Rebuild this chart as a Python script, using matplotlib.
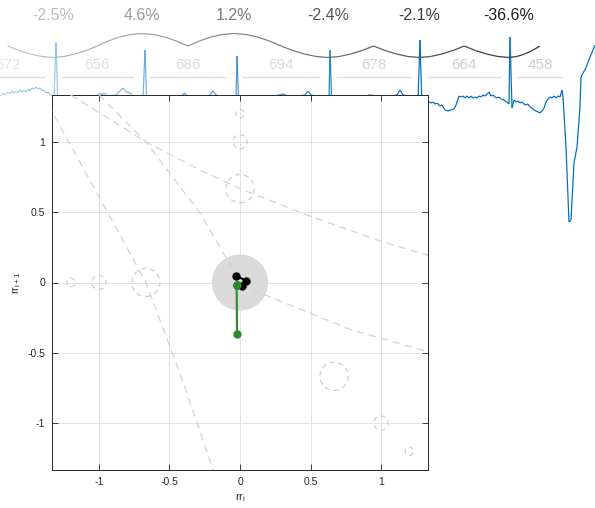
import numpy as np
import matplotlib.pyplot as plt
from matplotlib.collections import LineCollection
from matplotlib.patches import Circle

plt.rcParams['font.family'] = ['Liberation Sans', 'DejaVu Sans']

fs = 135.0  # strip samples per second

# RR intervals (ms) and change against the previous interval (%)
rr_ms = [672, 656, 686, 694, 678, 664, 458]
rr_change = [-2.5, 4.6, 1.2, -2.4, -2.1, -36.6]
first_beat_s = 0.393

# ECG strip, sample index and mV
ecg_n = [0, 3, 5, 8, 10, 12, 14, 16, 18, 20, 22, 24, 26, 28, 30, 32, 34, 36, 38, 40,
         42, 44, 46, 48, 50, 53, 54, 56, 58, 60,
         70, 85, 98, 100, 102, 104, 108, 116, 120, 123, 126, 130, 134, 140, 143, 145, 147, 150,
         165, 180, 185, 187, 200, 210, 213, 216, 225, 234, 236, 237, 239, 242,
         260, 283, 290, 305, 308, 311, 320, 327, 329, 330, 332, 335,
         350, 370, 385, 397, 400, 403, 412, 418, 420, 422, 425,
         428, 431, 433, 435, 437, 440, 442, 445, 448, 451, 454, 456, 459, 461, 463, 465,
         467, 469, 471, 473, 475, 477, 479, 481, 483, 485, 487, 489, 491, 493, 495, 497,
         499, 501, 503, 505, 507, 509, 510, 512, 514, 516, 518, 520, 522, 524, 526, 528,
         530, 532, 534, 536, 538, 540, 542, 544, 546, 548, 550, 552, 554, 556, 558, 560,
         562, 563, 566, 569, 571, 574, 577, 580, 581, 583, 585, 587, 590, 593, 595]
ecg_mv = [-0.02, 0.04, 0.0, 0.06, 0.02, 0.08, 0.04, 0.08, 0.04, 0.10, 0.06, 0.10, 0.06, 0.12,
          0.08, 0.14, 0.12, 0.16, 0.12, 0.14, 0.08, 0.10, 0.04, 0.06, 0.0, -0.02, -0.04, 1.04,
          -0.30, -0.10,
          -0.08, -0.04, 0.0, 0.04, 0.0, 0.04, -0.02, 0.0, 0.08, 0.14, 0.06, 0.04, -0.04, -0.06,
          -0.08, 0.90, -0.34, -0.10,
          -0.08, -0.04, 0.04, -0.04, -0.06, 0.0, 0.08, 0.0, -0.04, -0.06, -0.08, 0.78, -0.34, -0.10,
          -0.08, 0.02, -0.04, 0.0, 0.08, 0.0, -0.04, -0.06, -0.08, 0.90, -0.34, -0.10,
          -0.08, 0.0, -0.04, 0.0, 0.10, 0.0, -0.04, -0.08, 1.10, -0.26, -0.10,
          -0.13, -0.16, -0.14, -0.18, -0.16, -0.22, -0.20, -0.30, -0.32, -0.30, -0.28, -0.20,
          -0.02, -0.04, -0.02, -0.06, -0.02, -0.06, -0.02, -0.06, -0.04, -0.06, -0.02, -0.04,
          0.0, -0.02, 0.02, 0.06, -0.02, 0.0, -0.04, -0.06, -0.04, -0.08, -0.08, -0.12,
          -0.14, -0.18, 1.16, -0.26, -0.10, -0.14, -0.12, -0.16, -0.14, -0.18, -0.20, -0.18,
          -0.24, -0.26, -0.30, -0.32, -0.34, -0.36, -0.32, -0.26, -0.14, -0.08, -0.04, -0.06,
          -0.02, -0.06, -0.02, -0.04, 0.10, -0.04, -1.04, -2.54, -2.50, -1.36, -1.04, -0.24,
          0.36, 0.44, 0.50, 0.60, 0.76, 0.90, 1.00]

# beat-to-beat trend drawn above the strip, sample index and level
trend_n = [7.6, 18.9, 30.3, 41.7, 53.0, 64.1, 75.2, 86.2, 97.3, 108.4, 119.4, 130.5, 141.6,
           153.2, 164.8, 176.3, 187.9, 199.5, 211.0, 222.6, 234.2, 245.9, 257.6, 269.3, 281.0,
           292.7, 304.4, 316.2, 327.9, 339.3, 350.7, 362.2, 373.6, 385.0, 396.5, 407.9, 419.4,
           430.6, 441.8, 453.0, 464.2, 475.4, 486.6, 497.9, 509.1, 516.8, 524.6, 532.3, 540.0]
trend_mv = [0.98, 0.89, 0.82, 0.77, 0.75, 0.77, 0.82, 0.89, 0.98, 1.08, 1.16, 1.21, 1.23,
            1.21, 1.16, 1.08, 0.98, 1.08, 1.16, 1.21, 1.23, 1.21, 1.16, 1.08, 0.98,
            0.89, 0.82, 0.77, 0.75, 0.77, 0.82, 0.89, 0.98, 0.89, 0.82, 0.77, 0.75,
            0.77, 0.82, 0.89, 0.98, 0.89, 0.82, 0.77, 0.75, 0.77, 0.82, 0.89, 0.98]

# reference circles in the rr plane
ref_x = [0, 0, 0, -0.667, -1, -1.2, 0.667, 1, 1.2]
ref_y = [1.2, 1.0, 0.667, 0, 0, 0, -0.667, -1, -1.2]
ref_r = [0.03, 0.05, 0.1, 0.1, 0.05, 0.03, 0.1, 0.05, 0.03]

# reference curves in the rr plane
curve1_x = [-1.36, -1.333, -1.0, -0.667, -0.41, -0.19]
curve1_y = [1.26, 1.215, 0.61, 0.0, -0.69, -1.333]
curve2_x = [-1.2, -0.667, -0.285, 0.0, 0.5, 1.0, 1.36]
curve2_y = [1.333, 1.0, 0.80, 0.667, 0.47, 0.293, 0.185]
curve3_x = [-1.0, -0.667, -0.285, -0.048, 0.0, 0.083, 0.43, 0.78, 1.36]
curve3_y = [1.333, 1.0, 0.496, 0.092, 0.0, -0.05, -0.19, -0.333, -0.50]

blue = (0.0, 0.447, 0.741)

fig = plt.figure(figsize=(5.95, 5.08), dpi=100)

# strip across the whole figure
ax_top = fig.add_axes([0, 0, 1, 1], zorder=0)
ax_top.set_xlim(0, 595 / fs)
ax_top.set_ylim(-8.26, 1.9)
ax_top.axis('off')

t = np.array(ecg_n) / fs
v = np.array(ecg_mv)
pts = np.column_stack([t, v])
segs = np.stack([pts[:-1], pts[1:]], axis=1)
alpha = np.clip(0.28 + 0.72 * t[:-1] / (420 / fs), 0.28, 1.0)
ecg_colors = [(*blue, a) for a in alpha]
ax_top.add_collection(LineCollection(segs, colors=ecg_colors, linewidths=0.9))

tt = np.array(trend_n) / fs
tv = np.array(trend_mv)
tpts = np.column_stack([tt, tv])
tsegs = np.stack([tpts[:-1], tpts[1:]], axis=1)
frac = (tt[:-1] - tt[0]) / (tt[-1] - tt[0])
grey = 0.78 - 0.58 * frac
ax_top.add_collection(LineCollection(tsegs, colors=[(g, g, g) for g in grey], linewidths=0.9))

rr_s = np.array(rr_ms) / 1000.0
bounds = np.concatenate([[first_beat_s - rr_s[0]], first_beat_s + np.cumsum(rr_s) - rr_s[0]])

rr_colors = ['#e3e3e3', '#dedede', '#dbdbdb', '#d8d8d8', '#d4d4d4', '#d0d0d0', '#cccccc']
for k, rr in enumerate(rr_ms):
    a, b = bounds[k], bounds[k + 1]
    ax_top.plot([a + 0.065, b - 0.065], [0.36, 0.36], color='#dddddd', lw=1.0)
    ax_top.text((a + b) / 2, 0.6, str(rr), ha='center', va='center',
                fontsize=11, color=rr_colors[k])

pct_colors = ['#bdbdbd', '#9a9a9a', '#7a7a7a', '#555555', '#3a3a3a', '#1e1e1e']
for k, p in enumerate(rr_change):
    ax_top.text(bounds[k + 1], 1.6, f'{p:.1f}%', ha='center', va='center',
                fontsize=11.5, color=pct_colors[k])

# rr plane
ax = fig.add_axes([52 / 595, 38 / 508, 376 / 595, 375 / 508], zorder=1)
ax.set_facecolor('white')
ax.set_xlim(-1.333, 1.333)
ax.set_ylim(-1.333, 1.333)
ticks = [-1, -0.5, 0, 0.5, 1]
ax.set_xticks(ticks)
ax.set_yticks(ticks)
ax.set_xticklabels(['-1', '-0.5', '0', '0.5', '1'])
ax.set_yticklabels(['-1', '-0.5', '0', '0.5', '1'])
ax.tick_params(direction='in', length=4, width=0.6, top=True, right=True,
               labelsize=7.5, colors='#262626', pad=5)
for s in ax.spines.values():
    s.set_color('#262626')
    s.set_linewidth(0.7)
ax.grid(True, color='#e3e3e3', lw=0.7)
ax.set_axisbelow(True)

for cx, cy, r in zip(ref_x, ref_y, ref_r):
    ax.add_patch(Circle((cx, cy), r, fill=False, ls=(0, (4, 3)), lw=0.9,
                        edgecolor='#cfcfcf', zorder=2))
ax.add_patch(Circle((0, 0), 0.2, facecolor='#dadada', edgecolor='none', zorder=2))
for cx, cy in [(curve1_x, curve1_y), (curve2_x, curve2_y), (curve3_x, curve3_y)]:
    ax.plot(cx, cy, ls=(0, (6, 4)), color='#d3d3d3', lw=0.9, zorder=3)

px = np.array(rr_change[:-1]) / 100
py = np.array(rr_change[1:]) / 100
ax.plot(px[:4], py[:4], '-o', color='black', lw=1.5, ms=5, zorder=4)
ax.plot(px[3:], py[3:], '-o', color='#2a8c2a', lw=1.5, ms=5, zorder=5)

ax.set_xlabel(r'$\mathregular{rr_i}$', fontsize=8, color='#262626', labelpad=3)
ax.set_ylabel(r'$\mathregular{rr_{i+1}}$', fontsize=8, color='#262626', labelpad=3)

fig.savefig('out.png', dpi=100)
